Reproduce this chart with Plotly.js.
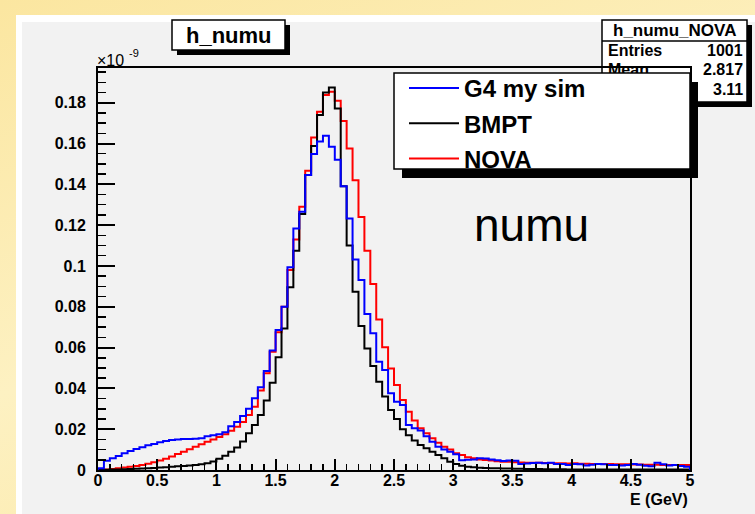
<!DOCTYPE html>
<html><head><meta charset="utf-8">
<script src="https://cdn.plot.ly/plotly-3.0.1.min.js"></script>
<style>
html,body{margin:0;padding:0;width:755px;height:514px;overflow:hidden;}
body{background:linear-gradient(160deg,#fbe6a0 0%,#fdf1c2 50%,#fbe7a2 100%);position:relative;}
#rim{position:absolute;left:16px;top:15px;width:739px;height:499px;background:#ffffff;}
#cv{position:absolute;left:22px;top:22px;width:733px;height:492px;background:#f2f2f2;}
#stats,#plot{position:absolute;left:0;top:0;width:755px;height:514px;}
</style></head><body>
<div id="rim"></div><div id="cv"></div><div id="stats"></div><div id="plot"></div>
<script>
// histogram binning (E in GeV)
const binMin = 0, binMax = 5, nBins = 100;

// bin contents (units of 1e-9)
const nova = [
0.0001,0.0003,0.0005,0.0008,0.0012,0.0016,0.0020,0.0025,0.0031,0.0038,
0.0046,0.0055,0.0066,0.0078,0.0090,0.0102,0.0114,0.0126,0.0138,0.0150,
0.0162,0.0175,0.0192,0.0212,0.0235,0.0270,0.0310,0.0390,0.0474,0.0580,
0.0675,0.0800,0.0980,0.1130,0.1290,0.1467,0.1630,0.1756,0.1838,0.1854,
0.1810,0.1710,0.1576,0.1420,0.1240,0.1075,0.0911,0.0738,0.0601,0.0498,
0.0417,0.0343,0.0286,0.0242,0.0204,0.0180,0.0155,0.0134,0.0114,0.0101,
0.0082,0.0074,0.0062,0.0057,0.0052,0.0049,0.0046,0.0043,0.0041,0.0040,
0.0038,0.0037,0.0036,0.0036,0.0035,0.0034,0.0034,0.0033,0.0033,0.0032,
0.0033,0.0031,0.0031,0.0030,0.0030,0.0029,0.0029,0.0028,0.0028,0.0028,
0.0027,0.0027,0.0026,0.0026,0.0026,0.0025,0.0025,0.0025,0.0024,0.0024];

const bmpt = [
0.0000,0.0001,0.0002,0.0003,0.0004,0.0005,0.0006,0.0007,0.0009,0.0010,
0.0012,0.0014,0.0016,0.0018,0.0020,0.0022,0.0025,0.0028,0.0033,0.0042,
0.0055,0.0070,0.0090,0.0110,0.0140,0.0180,0.0220,0.0270,0.0340,0.0428,
0.0552,0.0694,0.0895,0.1075,0.1254,0.1446,0.1588,0.1740,0.1850,0.1875,
0.1772,0.1390,0.1100,0.0874,0.0706,0.0596,0.0510,0.0433,0.0360,0.0294,
0.0250,0.0200,0.0170,0.0145,0.0123,0.0106,0.0090,0.0074,0.0057,0.0041,
0.0029,0.0021,0.0016,0.0013,0.0011,0.0010,0.0009,0.0008,0.0007,0.0007,
0.0006,0.0006,0.0005,0.0005,0.0005,0.0004,0.0004,0.0004,0.0004,0.0003,
0.0003,0.0003,0.0003,0.0003,0.0003,0.0003,0.0002,0.0003,0.0002,0.0002,
0.0002,0.0002,0.0002,0.0002,0.0002,0.0002,0.0002,0.0002,0.0002,0.0002];

const g4sim = [
0.0008,0.0045,0.0057,0.0069,0.0082,0.0093,0.0103,0.0111,0.0121,0.0127,
0.0136,0.0142,0.0147,0.0150,0.0152,0.0152,0.0153,0.0155,0.0165,0.0170,
0.0175,0.0185,0.0215,0.0235,0.0265,0.0300,0.0351,0.0405,0.0485,0.0585,
0.0686,0.0800,0.0993,0.1184,0.1266,0.1446,0.1548,0.1610,0.1638,0.1584,
0.1520,0.1390,0.1233,0.1032,0.0931,0.0764,0.0670,0.0530,0.0490,0.0376,
0.0335,0.0319,0.0220,0.0204,0.0193,0.0165,0.0139,0.0114,0.0101,0.0090,
0.0077,0.0048,0.0050,0.0052,0.0058,0.0056,0.0052,0.0048,0.0044,0.0046,
0.0045,0.0030,0.0032,0.0034,0.0036,0.0033,0.0035,0.0030,0.0030,0.0025,
0.0030,0.0028,0.0022,0.0026,0.0030,0.0028,0.0024,0.0025,0.0022,0.0024,
0.0030,0.0026,0.0021,0.0018,0.0035,0.0028,0.0022,0.0024,0.0020,0.0016];

const seriesNames = ['NOVA', 'BMPT', 'G4 my sim'];
const seriesColors = ['#ff0000', '#000000', '#0000ff'];
const legendRanks = [3, 2, 1];
const statsTitle = 'h_numu_NOVA';
const statsRows = [['Entries', '1001'], ['Mean', '2.817'], ['RMS', '3.11']];

const edges = [];
for (let i = 0; i <= nBins; i++) edges.push(+(binMin + i * (binMax - binMin) / nBins).toFixed(6));

function stepXY(vals) {
  const x = [binMin], y = [0];
  for (let i = 0; i < vals.length; i++) { x.push(edges[i]); y.push(vals[i]); }
  x.push(binMax); y.push(vals[vals.length - 1]);
  x.push(binMax); y.push(0);
  return {x, y};
}

const data = [nova, bmpt, g4sim].map((vals, k) => {
  const s = stepXY(vals);
  return {type: 'scatter', mode: 'lines', x: s.x, y: s.y, name: seriesNames[k],
    legendgroup: 'g' + k, legendrank: legendRanks[k],
    line: {color: seriesColors[k], width: 2, shape: 'hv'}, hoverinfo: 'skip'};
});

const L = 98, R = 690, T = 68, B = 470;
const px = v => (v - L) / (R - L);
const py = v => (B - v) / (B - T);
const FF = 'Liberation Sans, Arial, Helvetica, sans-serif';
const margin = {l: L, r: 755 - R, t: T, b: 514 - B, pad: 0};

function rect(x0, y0, x1, y1, fill, lw) {
  return {type: 'rect', xref: 'paper', yref: 'paper', x0: px(x0), x1: px(x1), y0: py(y1), y1: py(y0),
    fillcolor: fill, line: {color: '#000', width: lw}, layer: 'above'};
}
function ann(text, x, y, size, opts) {
  return Object.assign({text, xref: 'paper', yref: 'paper', x: px(x), y: py(y), showarrow: false,
    xanchor: 'center', yanchor: 'middle', font: {family: FF, size, color: '#000', weight: 'bold'}}, opts || {});
}

// ---- statistics box (drawn underneath, so the legend box covers part of it)
const statShapes = [
  rect(607, 25, 752, 107, '#000', 0),
  rect(602, 20, 747, 102, '#ffffff', 1.5),
  {type: 'line', xref: 'paper', yref: 'paper', x0: px(602), x1: px(747), y0: py(41), y1: py(41), line: {color: '#000', width: 1.5}, layer: 'above'}
];
const statAnn = [ann(statsTitle, 674.5, 31, 17)];
const rowY = [50, 69, 90];
statsRows.forEach((r, i) => {
  statAnn.push(ann(r[0], 606, rowY[i], 16, {xanchor: 'left'}));
  statAnn.push(ann(r[1], 745, rowY[i], 16, {xanchor: 'right'}));
});
Plotly.newPlot('stats', [], {
  width: 755, height: 514, margin, paper_bgcolor: 'rgba(0,0,0,0)', plot_bgcolor: 'rgba(0,0,0,0)',
  xaxis: {visible: false}, yaxis: {visible: false}, showlegend: false,
  shapes: statShapes, annotations: statAnn
}, {staticPlot: true});

// ---- main histogram frame
const shapes = [
  rect(177, 25, 290, 55, '#000', 0),
  rect(172, 20, 285, 50, '#ffffff', 1.5),
  rect(402, 82, 698, 178, '#000', 0),
  rect(394, 73, 690, 169, '#ffffff', 1.5)
];
const annotations = [
  ann('h_numu', 228.5, 35, 22),
  ann('numu', 531, 225, 46, {font: {family: FF, size: 46, color: '#000', weight: 'normal'}}),
  ann('×10', 95, 61, 16, {xanchor: 'left', font: {family: FF, size: 16, color: '#000', weight: 'normal'}}),
  ann('-9', 127, 53, 11, {xanchor: 'left', font: {family: FF, size: 11, color: '#000', weight: 'normal'}}),
  ann('E (GeV)', 690, 499, 16, {xanchor: 'right'})
];

const tickFont = {family: FF, size: 16, color: '#000', weight: 'bold'};
const layout = {
  width: 755, height: 514, margin,
  paper_bgcolor: 'rgba(0,0,0,0)', plot_bgcolor: 'rgba(0,0,0,0)',
  showlegend: true,
  legend: {x: px(404), y: py(66), xanchor: 'left', yanchor: 'top', bgcolor: 'rgba(0,0,0,0)',
    borderwidth: 0, font: {family: FF, size: 24, color: '#000', weight: 'bold'},
    traceorder: 'grouped', tracegroupgap: 1, itemwidth: 50},
  xaxis: {range: [binMin, binMax], tick0: 0, dtick: 0.5, ticks: 'inside', ticklen: 11, tickwidth: 2,
    tickcolor: '#000', showline: true, linewidth: 2, linecolor: '#000', mirror: true,
    showgrid: false, zeroline: false, tickfont: tickFont, ticklabelstandoff: -5,
    minor: {dtick: 0.1, ticks: 'inside', ticklen: 6, tickwidth: 1.5, tickcolor: '#000', showgrid: false}},
  yaxis: {range: [0, 0.197], tick0: 0, dtick: 0.02, ticks: 'inside', ticklen: 17, tickwidth: 2,
    tickcolor: '#000', showline: true, linewidth: 2, linecolor: '#000', mirror: true,
    showgrid: false, zeroline: false, tickfont: tickFont, ticklabelstandoff: 7,
    minor: {dtick: 0.005, ticks: 'inside', ticklen: 8, tickwidth: 1.5, tickcolor: '#000', showgrid: false}},
  shapes, annotations
};
Plotly.newPlot('plot', data, layout, {staticPlot: true});
</script>
</body></html>
